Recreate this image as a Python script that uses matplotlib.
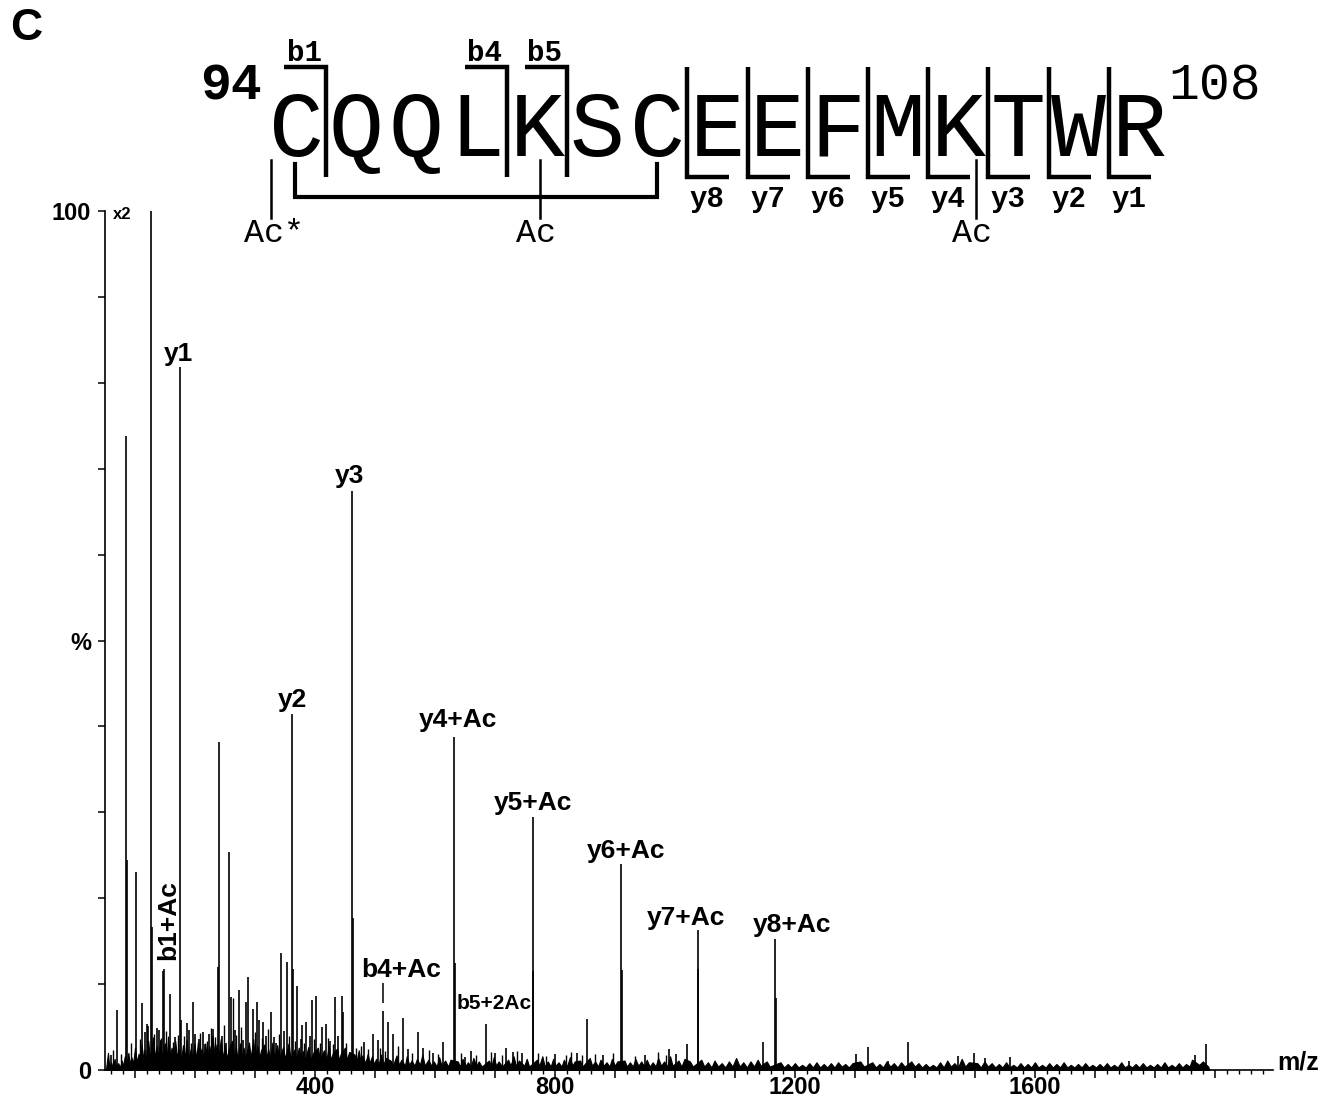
import matplotlib
matplotlib.use("Agg")
import matplotlib.pyplot as plt
from matplotlib.ticker import FixedLocator, FuncFormatter, MultipleLocator

plt.rcParams["font.family"] = ["Liberation Sans", "DejaVu Sans"]

# --- MS/MS spectrum (m/z, relative intensity in %) ---
peak_mz = [60, 70, 85, 87, 102, 112, 117, 120, 122, 127, 128, 136, 140, 146, 148,
           158, 167, 175, 177, 186, 190, 197, 200, 206, 213, 216, 223, 230, 238, 240,
           245, 252, 257, 260, 266, 273, 280, 285, 288, 297, 303, 307, 313, 318, 327,
           332, 335, 343, 349, 353, 362, 363, 370, 376, 378, 385, 391, 395, 402, 412,
           418, 425, 433, 438, 445, 447, 462, 463, 482, 497, 505, 513, 522, 530, 547,
           555, 572, 580, 597, 613, 632, 633, 650, 660, 685, 700, 718, 730, 745, 763,
           764, 800, 837, 853, 880, 910, 911, 950, 990, 1002, 1020, 1038, 1039, 1147,
           1167, 1168, 1302, 1322, 1355, 1388, 1472, 1498, 1517, 1558, 1757, 1867, 1885]
peak_int = [1.7, 7.0, 73.8, 24.5, 23.0, 7.8, 4.4, 5.3, 5.1, 100, 16.7, 4.9, 4.7, 11.5, 11.8,
            8.8, 3.8, 81.8, 5.8, 5.5, 4.7, 7.9, 4.2, 3.6, 4.4, 3.0, 4.2, 4.8, 12.0, 38.2,
            4.0, 3.2, 25.4, 8.5, 4.6, 9.3, 3.5, 7.9, 10.8, 7.1, 7.9, 5.8, 5.6, 4.0, 6.8,
            3.8, 3.1, 13.6, 4.5, 12.6, 41.4, 11.7, 9.8, 3.6, 5.2, 5.6, 4.0, 8.2, 8.6, 5.0,
            5.4, 3.4, 8.5, 3.9, 8.6, 6.8, 67.4, 17.7, 3.3, 4.2, 3.5, 6.9, 5.6, 4.2, 6.1,
            2.4, 4.4, 2.6, 2.0, 3.3, 38.8, 12.5, 1.5, 2.2, 5.4, 2.0, 2.6, 2.1, 2.0, 29.4,
            11.5, 1.9, 2.0, 5.9, 1.8, 24.0, 11.6, 1.7, 2.4, 1.9, 3.0, 16.3, 11.8, 3.3,
            15.3, 8.4, 1.9, 2.7, 1.0, 3.3, 1.6, 2.0, 1.4, 1.5, 1.1, 1.7, 3.0]

# small spikes standing out of the noise
small_mz = [64, 76, 94, 108, 131, 143, 152, 163, 171, 182, 194, 209, 220, 227, 234,
            249, 263, 269, 276, 300, 311, 322, 340, 357, 366, 381, 398, 408, 421, 430,
            452, 468, 476, 489, 509, 517, 538, 562, 590, 605, 644, 668, 693, 711, 736,
            772, 785, 818, 826, 845, 866, 897, 934, 972, 985]
small_int = [2.3, 1.9, 3.1, 3.6, 4.2, 3.7, 4.5, 3.3, 4.1, 3.9, 3.2, 4.3, 3.4, 4.9, 3.8,
             5.2, 8.4, 4.1, 5.0, 4.4, 3.7, 4.8, 4.2, 3.9, 3.4, 3.1, 3.6, 3.2, 3.7, 3.0,
             3.1, 2.6, 2.8, 2.5, 2.6, 2.2, 2.8, 2.0, 2.3, 1.9, 2.0, 1.8, 2.1, 1.7, 2.2,
             2.0, 1.6, 1.8, 2.1, 1.7, 1.9, 2.0, 1.6, 2.1, 1.8]

# chemical noise along the baseline
noise = [
    (52, 0.3), (55, 2.0), (57, 0.4), (60, 0.9), (63, 0.3), (66, 1.3), (68, 0.4), (72, 0.8),
    (75, 0.3), (78, 1.1), (80, 0.4), (83, 1.6), (86, 0.8), (89, 2.0), (91, 0.7), (94, 1.5),
    (97, 0.8), (100, 2.6), (103, 0.9), (106, 1.9), (109, 1.0), (111, 3.0), (114, 1.2),
    (116, 2.4), (119, 1.1), (122, 3.4), (125, 1.3), (130, 3.8), (133, 1.4), (136, 2.8),
    (138, 1.3), (142, 3.5), (144, 1.5), (150, 3.1), (153, 1.4), (155, 3.9), (158, 1.6),
    (161, 2.6), (164, 1.3), (167, 3.4), (170, 1.5), (173, 2.4), (177, 1.3), (180, 2.9),
    (183, 1.4), (186, 3.5), (189, 1.3), (193, 2.5), (196, 1.2), (199, 3.1),
    (202, 1.3), (205, 3.3), (208, 1.5), (211, 2.5), (214, 1.2), (217, 3.1), (220, 1.4),
    (224, 2.8), (227, 1.3), (229, 4.0), (233, 1.5), (236, 3.0), (239, 1.3), (243, 3.6),
    (246, 1.4), (250, 2.9), (253, 1.3), (256, 2.4), (262, 3.4), (265, 1.4), (268, 2.8),
    (271, 1.2), (275, 3.1), (278, 1.5), (281, 2.6), (284, 1.3), (290, 3.2), (293, 1.4),
    (297, 3.6), (300, 1.5), (304, 2.8), (307, 1.3), (310, 2.3), (316, 3.0), (319, 1.3),
    (322, 2.5), (325, 1.2), (329, 3.2), (332, 1.4), (337, 2.9), (340, 1.3), (347, 2.7),
    (350, 1.3), (356, 3.1), (359, 1.4), (366, 2.4), (369, 1.2), (373, 2.6), (376, 1.3),
    (380, 2.2), (383, 1.1), (389, 2.7), (392, 1.2), (398, 2.1), (405, 2.6), (408, 1.2),
    (415, 2.3), (419, 1.1), (423, 2.8), (426, 1.2), (430, 2.0), (437, 2.5), (440, 1.1),
    (443, 1.9), (450, 2.6), (453, 1.2), (457, 2.1), (466, 1.8), (469, 0.9), (473, 2.3),
    (476, 0.9), (479, 1.7), (484, 0.8), (488, 1.9), (491, 0.8), (495, 1.6), (498, 0.7),
    (502, 1.3), (506, 0.6), (510, 1.8), (514, 0.6), (518, 1.4), (526, 1.1), (530, 0.5),
    (536, 1.7), (540, 0.6), (544, 1.2), (550, 0.5), (553, 1.6), (557, 0.6), (561, 1.1),
    (566, 0.5), (570, 1.3), (575, 0.6), (579, 1.8), (583, 0.5), (589, 1.2), (594, 0.5),
    (598, 1.0), (603, 0.4), (607, 1.5), (611, 0.5), (617, 1.1), (622, 0.4), (626, 1.2),
    (638, 1.0), (642, 0.4), (646, 1.3), (651, 0.5), (655, 0.9), (660, 0.4), (664, 1.4),
    (669, 0.5), (673, 1.0), (678, 0.4), (690, 1.1), (694, 0.4), (698, 1.5), (702, 0.5),
    (706, 1.0), (712, 0.4), (722, 1.2), (726, 0.5), (731, 1.6), (735, 0.5), (740, 1.1),
    (749, 0.5), (753, 1.3), (757, 0.4), (770, 1.2), (774, 0.5), (779, 1.6), (783, 0.4),
    (788, 1.0), (793, 0.4), (797, 1.3), (801, 0.5), (806, 0.9), (811, 0.4), (815, 1.2),
    (820, 0.4), (825, 1.5), (829, 0.5), (833, 1.0), (842, 1.1), (846, 0.4), (858, 1.4),
    (862, 0.5), (867, 1.0), (872, 0.4), (876, 1.2), (881, 0.5), (886, 0.9), (891, 0.4),
    (895, 1.3), (900, 0.5), (904, 1.0), (916, 1.1), (920, 0.4), (925, 0.9), (930, 0.4),
    (934, 1.3), (939, 0.5), (944, 1.0), (949, 0.4), (953, 1.2), (958, 0.4), (963, 0.9),
    (968, 0.4), (972, 1.4), (977, 0.5), (982, 1.0), (987, 0.4), (992, 1.6), (996, 0.5),
    (1006, 1.1), (1011, 0.4), (1016, 1.3), (1025, 1.0), (1030, 0.4), (1044, 1.2),
    (1049, 0.4), (1055, 0.9), (1061, 0.3), (1066, 1.1), (1072, 0.4), (1078, 0.8),
    (1084, 0.3), (1090, 1.0), (1096, 0.4), (1102, 1.4), (1108, 0.4), (1114, 0.9),
    (1120, 0.3), (1126, 1.0), (1132, 0.4), (1138, 1.2), (1143, 0.5), (1153, 1.0),
    (1158, 0.4), (1176, 0.9), (1182, 0.3), (1188, 0.7), (1194, 0.3), (1200, 0.8),
    (1206, 0.3), (1212, 0.6), (1218, 0.3), (1224, 0.8), (1230, 0.3), (1236, 0.9),
    (1242, 0.3), (1248, 0.7), (1254, 0.3), (1260, 0.8), (1266, 0.3), (1272, 0.9),
    (1278, 0.4), (1284, 0.7), (1290, 0.3), (1296, 0.8), (1309, 1.0), (1315, 0.4),
    (1329, 0.9), (1335, 0.3), (1341, 0.7), (1347, 0.3), (1353, 1.0), (1359, 0.4),
    (1365, 0.8), (1371, 0.3), (1377, 0.9), (1383, 0.4), (1394, 1.0), (1400, 0.4),
    (1406, 0.8), (1412, 0.3), (1418, 0.7), (1424, 0.3), (1430, 0.6), (1436, 0.3),
    (1442, 0.9), (1448, 0.3), (1454, 1.1), (1460, 0.4), (1466, 0.8), (1472, 0.3),
    (1478, 1.3), (1484, 0.4), (1490, 0.9), (1504, 0.8), (1510, 0.3), (1516, 1.0),
    (1522, 0.4), (1528, 0.8), (1534, 0.3), (1540, 0.7), (1546, 0.3), (1552, 0.9),
    (1558, 0.3), (1564, 0.6), (1570, 0.3), (1576, 0.8), (1582, 0.3), (1588, 0.7),
    (1594, 0.3), (1600, 0.9), (1606, 0.3), (1612, 0.6), (1618, 0.3), (1624, 0.8),
    (1630, 0.3), (1636, 0.7), (1642, 0.3), (1648, 0.9), (1654, 0.3), (1660, 0.6),
    (1666, 0.3), (1672, 0.7), (1678, 0.3), (1684, 0.8), (1690, 0.3), (1696, 0.6),
    (1702, 0.3), (1708, 0.7), (1714, 0.3), (1720, 0.8), (1726, 0.3), (1732, 0.6),
    (1738, 0.3), (1744, 0.9), (1750, 0.3), (1756, 0.6), (1762, 0.3), (1768, 0.7),
    (1774, 0.3), (1780, 0.8), (1786, 0.3), (1792, 0.6), (1798, 0.3), (1804, 0.7),
    (1810, 0.3), (1816, 0.9), (1822, 0.3), (1828, 0.6), (1834, 0.3), (1840, 0.8),
    (1846, 0.3), (1852, 0.7), (1858, 0.4), (1862, 1.2), (1874, 0.6), (1880, 1.0),
    (1889, 0.4), (1891, 0.0),
]
noise_mz = [m for m, _ in noise]
noise_int = [v for _, v in noise]

# fragment labels: text, centre m/z, bottom (in % units)
label_text = ["y1", "y2", "y3", "y4+Ac", "y5+Ac", "y6+Ac", "y7+Ac", "y8+Ac", "b4+Ac"]
label_mz = [172, 362, 457, 638, 763, 918, 1018, 1195, 543]
label_int = [81.9, 41.7, 67.8, 39.3, 29.7, 24.1, 16.3, 15.5, 10.3]
b4_mark_mz, b4_mark_lo, b4_mark_hi = 513, 7.8, 10.1

# peptide annotation (ion ladder)
sequence = "CQQLKSCEEFMKTWR"
first_res, last_res = 94, 108
b_ions = [1, 4, 5]
y_ions = [8, 7, 6, 5, 4, 3, 2, 1]
ac_sites = [(0, "Ac*"), (4, "Ac"), (11, "Ac")]
disulfide = (0, 6)

W, H = 1326, 1099
fig = plt.figure(figsize=(W / 100, H / 100), dpi=100)
ax = fig.add_axes([105 / W, 1 - 1070 / H, (1273 - 105) / W, (1070 - 211) / H])

ax.fill_between(noise_mz, 0, noise_int, color="black", lw=0.8)
ax.vlines(small_mz, 0, small_int, colors="black", lw=1.0)
ax.vlines(peak_mz, 0, peak_int, colors="black", lw=1.2, clip_on=False)
ax.set_xlim(50, 1997)
ax.set_ylim(0, 100)

for side in ("top", "right"):
    ax.spines[side].set_visible(False)
for side in ("left", "bottom"):
    ax.spines[side].set_linewidth(1.2)

ax.xaxis.set_major_locator(FixedLocator(range(100, 2000, 100)))
ax.xaxis.set_minor_locator(MultipleLocator(20))
ax.xaxis.set_major_formatter(FuncFormatter(lambda v, p: f"{v:.0f}" if v % 400 == 0 else ""))
ax.yaxis.set_major_locator(FixedLocator([0, 50, 100]))
ax.yaxis.set_minor_locator(MultipleLocator(10))
ax.yaxis.set_major_formatter(FuncFormatter(lambda v, p: {0: "0", 50: "%", 100: "100"}[int(v)]))
ax.tick_params(axis="x", which="major", length=6, width=1.1, pad=-1.5, labelsize=17)
ax.tick_params(axis="x", which="minor", length=3, width=1.0)
ax.tick_params(axis="y", which="both", length=5, width=1.1, pad=5, labelsize=17)
for lab in ax.get_xticklabels() + ax.get_yticklabels():
    lab.set_fontweight("bold")

for txt, mz, yv in zip(label_text, label_mz, label_int):
    ax.text(mz, yv, txt, ha="center", va="bottom", fontsize=19, fontweight="bold")
ax.text(698, 6.6, "b5+2Ac", ha="center", va="bottom", fontsize=15, fontweight="bold")
ax.text(155, 17.4, "b1+Ac", ha="center", va="center", rotation=90,
        fontsize=19, fontweight="bold")
ax.text(78, 99.6, "x2", ha="center", va="center", fontsize=12, fontweight="bold")
ax.vlines(b4_mark_mz, b4_mark_lo, b4_mark_hi, colors="black", lw=1.1)

# overlay in pixel units for the sequence diagram
ov = fig.add_axes([0, 0, 1, 1])
ov.set_xlim(0, W)
ov.set_ylim(H, 0)
ov.axis("off")

ov.text(26, 29, "C", ha="center", va="center", fontsize=32, fontweight="bold")
ov.text(1277, 1070, "m/z", ha="left", va="baseline", fontsize=18, fontweight="bold")

mono = "Liberation Mono"
x0, pitch, base = 296, 60.2, 156
for i, aa in enumerate(sequence):
    ov.text(x0 + pitch * i, base, aa, ha="center", va="baseline", fontsize=66, family=mono)
ov.text(262, 86, str(first_res), ha="right", va="center", fontsize=37, family=mono,
        fontweight="bold")
ov.text(1168, 86, str(last_res), ha="left", va="center", fontsize=37, family=mono)

top, bot, arm, blw = 67, 177, 42, 3.2
for n in b_ions:
    xb = x0 + pitch * (n - 0.5)
    ov.plot([xb - arm, xb, xb], [top, top, bot], color="black", lw=blw,
            solid_joinstyle="miter", solid_capstyle="butt")
    ov.text(xb - 22, 53, f"b{n}", ha="center", va="center", fontsize=21, family=mono,
            fontweight="bold")
for n in y_ions:
    xb = x0 + pitch * (len(sequence) - n - 0.5)
    ov.plot([xb, xb, xb + arm], [top, bot, bot], color="black", lw=blw,
            solid_joinstyle="miter", solid_capstyle="butt")
    ov.text(xb + 20, 199, f"y{n}", ha="center", va="center", fontsize=21, family=mono,
            fontweight="bold")

ss0, ss1 = disulfide
ov.plot([x0 + pitch * ss0 - 1, x0 + pitch * ss0 - 1, x0 + pitch * ss1, x0 + pitch * ss1],
        [164, 197, 197, 164], color="black", lw=3.0, solid_joinstyle="miter")

ac_offset = {0: -25, 4: 3, 11: 18}
for idx, txt in ac_sites:
    xa = x0 + pitch * idx + ac_offset[idx]
    ov.plot([xa, xa], [160, 218], color="black", lw=1.8)
    ov.text(xa + (3 if txt == "Ac*" else -4), 234, txt, ha="center", va="center",
            fontsize=24, family=mono)

fig.savefig("out.png", dpi=100)
